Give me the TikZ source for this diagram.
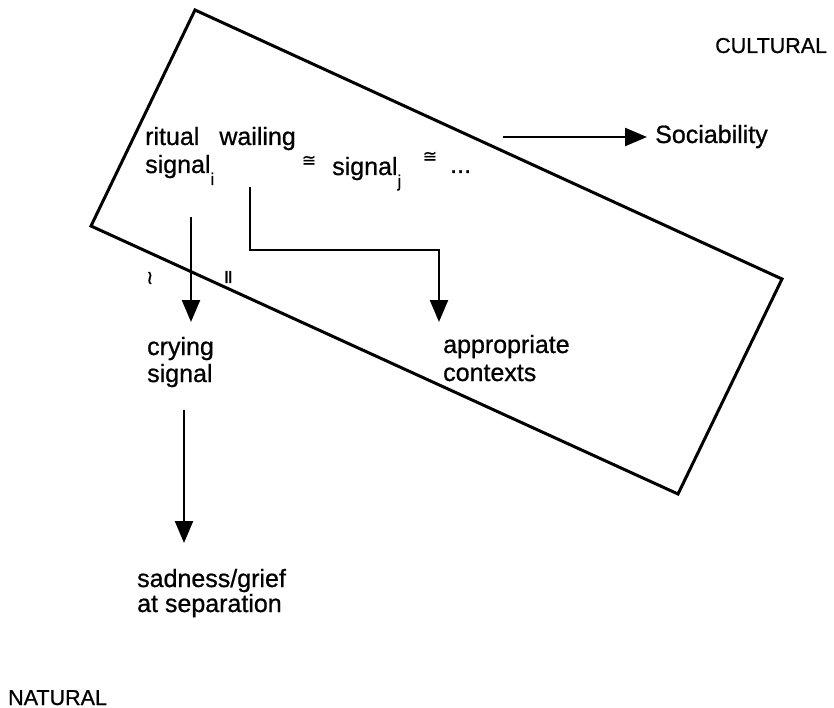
\documentclass[tikz,border=0pt]{standalone}
\usepackage{fontspec}
\setmainfont[FakeBold=0.8]{Liberation Sans}
\newfontfamily\symfont[FakeBold=0.8]{DejaVu Sans}
\usetikzlibrary{arrows.meta}
\begin{document}
\begin{tikzpicture}[x=1pt,y=-1pt,
  txt/.style={anchor=base west,inner sep=0pt,font=\fontsize{25}{27}\selectfont},
  lbl/.style={anchor=base west,inner sep=0pt,font=\fontsize{21.5}{24}\selectfont},
  sym/.style={inner sep=0pt,font=\symfont\fontsize{17}{17}\selectfont},
  rsym/.style={inner sep=0pt,rotate=90,font=\symfont\fontsize{19}{19}\selectfont},
  conn/.style={line width=2.4pt,-{Triangle[length=22pt,width=18pt]}},
  frame/.style={line width=3pt,line join=miter}]
\useasboundingbox (0,0) rectangle (834,708);

% frame (rotated rectangle)
\coordinate (c1) at (195,10);
\coordinate (c2) at (782,279);
\coordinate (c3) at (678,494);
\coordinate (c4) at (91,226);
\draw[frame] (c1) -- (c2) -- (c3) -- (c4) -- cycle;

% labels
\node[lbl] (cult) at (715,53) {CULTURAL};
\node[lbl] (nat) at (8,705) {NATURAL};

% texts inside the frame
\node[txt] (rw) at (145,145) {ritual\hspace{20pt}wailing};
\node[txt] (si) at (145,173) {signal\raisebox{-12pt}{\fontsize{17}{17}\selectfont i}};
\node[sym] (eq1) at (309,161) {≅};
\node[txt] (sj) at (332,175) {signal\raisebox{-12pt}{\fontsize{17}{17}\selectfont j}};
\node[sym] (eq2) at (430,157) {≅};
\node[txt] (dots) at (450,173) {...};

\node[txt] (soc) at (655,143) {Sociability};

\node[txt] (cry1) at (147,355) {crying};
\node[txt] (cry2) at (147,382) {signal};
\node[txt] (app1) at (443,353) {appropriate};
\node[txt] (app2) at (443,381) {contexts};
\node[txt] (sad1) at (137,587) {sadness/grief};
\node[txt] (sad2) at (137,612) {at separation};

% rotated congruence marks on the crossing arrow
\node[rsym] (tl) at (152,278) {∼};
\node[rsym] (eqv) at (230,277) {=};

% connector end points
\coordinate (a1s) at (191,217);
\coordinate (a1e) at (191,322);
\coordinate (a2s) at (250,187);
\coordinate (a2m) at (250,250);
\coordinate (a2n) at (439,250);
\coordinate (a2e) at (439,322);
\coordinate (a3s) at (184,410);
\coordinate (a3e) at (184,543);
\coordinate (a4s) at (503,137);
\coordinate (a4e) at (647,137);

\draw[conn] (a1s) -- (a1e);
\draw[conn] (a2s) -- (a2m) -- (a2n) -- (a2e);
\draw[conn] (a3s) -- (a3e);
\draw[conn] (a4s) -- (a4e);
\end{tikzpicture}
\end{document}
